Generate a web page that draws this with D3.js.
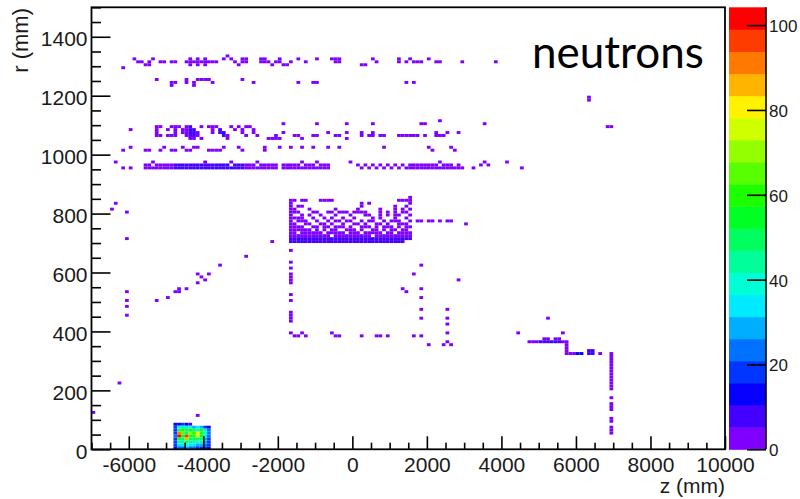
<!DOCTYPE html>
<html><head><meta charset="utf-8">
<script src="https://cdn.jsdelivr.net/npm/d3@7"></script>
<style>body{margin:0;background:#fff}</style>
</head><body><svg id="c" width="800" height="499"></svg>
<script>
// ---- binning & axes ----
const zBin = 100, rBin = 10;
const zDomain = [-7000, 10000];
const rDomain = [0, 1500];
const xTicks = [-6000,-4000,-2000,0,2000,4000,6000,8000,10000];
const yTicks = [0,200,400,600,800,1000,1200,1400];
const cTicks = [0,20,40,60,80,100];
const colorMax = 104.2, nLevels = 20;

// ---- dense spot near the beam line (counts per cell) ----
const hotZ = [-4800,-4700,-4600,-4500,-4400,-4300,-4200,-4100,-4000,-3900];
const hotR = [80,70,60,50,40,30,20,10,0];
const hotCounts = [
 [14,12,16,14,10,0,0,0,0,0],
 [18,38,42,35,38,30,34,30,20,14],
 [20,50,60,48,55,50,45,55,35,22],
 [18,92,65,52,70,62,80,58,38,24],
 [22,100,55,98,62,58,75,55,34,22],
 [20,60,48,88,50,52,50,48,30,18],
 [18,45,42,50,45,42,40,42,28,18],
 [16,35,35,40,35,32,30,30,24,16],
 [14,25,22,28,22,24,18,20,18,14]
];

// ---- sparse cells: [r, count, [z...]] ----
const ring1300 = [
 [1330, 2, [-3400]],
 [1320, 2, [-5900,-5400,-4400,-4200,-4000,-3500,-3300,-3000,-2900,-2500,-2400,-2000,-1500,-1000,-600,-500,-400,500,1200,1500,2000]],
 [1310, 2, [-5800,-5700,-5500,-5200,-5100,-4900,-4800,-4500,-4400,-4300,-4200,-4100,-4000,-3900,-3800,-3700,-3200,-3000,-2900,-2500,-2400,-2300,-2100,-2000,-1700,-1300,-500,-400,600,1200,1400,1600,1700,1800,2200,2300,2900,3800]],
 [1300, 2, [-5600,-5500,-4400,-4200,-4000,-3100,-2200,-1900,-1800,200,300]],
 [1290, 2, [-6200]]
];
const ring1240 = [
 [1250, 2, [-5300,-4500,-4200,-4100,-4000,-3900,-3000]],
 [1240, 2, [-4900,-4800,-4500,-4300,-3800,-2700,-1500,-1100,-1000,1400,1600]],
 [1230, 2, [-4900,-4300]],
 [1190, 2, [6300]],
 [1180, 2, [6300]]
];
const band1060 = [
 [1110, 2, [2300]],
 [1100, 2, [-1900,-1000,-200,500,1800,1900,3500]],
 [1090, 2, [-5300,-5200,-4900,-4800,-4700,-4500,-4100,-3900,-3800,-3700,-3300,-3100,-2900,-2800,6800,6900]],
 [1090, 8, [-4400]],
 [1080, 2, [-6000,-5300,-5000,-4800,-4600,-4500,-3800,-3200,-3000,-2700]],
 [1080, 9, [-4400,-4300,-3600]],
 [1070, 2, [-5300,-4800,-4600,-4500,-4200,-3800,-3000,-2700,-1900,-700,-200,200,500,2200,2500,2800]],
 [1070, 9, [-4400,-4300,-3600,-3500]],
 [1060, 2, [-5300,-5200,-5000,-4900,-4800,-4500,-4200,-3400,-2900,-2600,-2100,-1600,-1500,-1100,-1000,-500,-400,200,400,500,700,800,1200,1300,1400,1500,1600,1700,1900,2200,2300,2400]],
 [1060, 7, [-4400,-4300,-3500]],
 [1050, 2, [-4400,-4300,-4100,-3400,-2300,-2200,-2100,-2000,-1400,-200]],
 [1020, 2, [-6000,-5100,-4600,-4300,-4200,-3500,-3100,-2400,-2000,-1700,-1400,-1100,-700,-400,800,2000,2600]],
 [1010, 2, [-6200,-5600,-5500,-5200,-4900,-4800,-4500,-4400,-3900,-3800,-3700,-3600,-3000,-2400,2100,2700]]
];
const band960 = [
 [970, 2, [-6400,-5400,-4000,-3300,-2600,-1400,-1000,-100,2300,3500,4100]],
 [960, 3, [-5600,-5500,-5300,-5200,-5100,-5000,-4900]],
 [960, 7, [-4800,-4700,-4600,-4500,-4400,-4300,-4200,-4100,-4000,-3900,-3800,-3700,-3600,-3500,-3400,-3200,-3100,-3000]],
 [960, 3, [-2900,-2800,-2700,-2500,-2400,-2300,-2200,-2100,-1900,-1800,-1700,-1600,-1500,-1300,-1200,-1100,-900,-800,-700,100,300,500,700,900,1100,1300,1500,1600,1700,1800,1900,2000,2100,2200,2400,2500,2600,2800,3400,3600]],
 [950, 3, [-6200,-6000,-5600,-5500,-5400,-5300,-5200,-5100,-5000,-4900]],
 [950, 8, [-4800,-4700,-4600,-4500,-4400,-4300,-4200,-4100,-4000,-3900,-3800,-3700,-3600,-3500,-3400,-3300,-3200,-3100,-3000]],
 [950, 3, [-2900,-2800,-2700,-2600,-2500,-2400,-2300,-2200,-2100,-1900,-1800,-1700,-1600,-1500,-1400,-1300,-1200,-1100,-1000,-900,-800,-700,200,400,600,800,1000,1200,1400,1500,1600,1700,1800,1900,2000,2100,2200,2300,2400,2500,2600,2700,2800,2900,3200,4500]]
];
const boxRows = [
 [850, 3, [1500]],
 [840, 3, [-1700,-1600,-1400,-1300,-900,-800,-700,-600,1200,1300,1400,1500]],
 [830, 3, [-1700,200,400,1500]],
 [820, 3, [-1700,-1500,-1400,200,1100,1400]],
 [810, 3, [-1700,-1600,-1200,-500,100,700,1100,1300,1500]],
 [800, 3, [-1700,-1600,-1500,-1100,-1000,-700,-600,-400,-300,-200,0,100,200,300,700,900,1100,1300,1400]],
 [790, 3, [-1700,-1400,-1200,-900,-500,-100,300,400,700,900,1100,1200,1500]],
 [780, 3, [-1700,-1600,-1500,-1400,-1100,-800,-600,-300,0,500,700,1100,1400]],
 [770, 3, [-1700,-1500,-1400,-1300,-1000,-700,-500,-400,-200,-100,200,400,500,800,1000,1100,1200,1500,1700,1800,2000,2100,2300,2500,2600]],
 [760, 3, [-1700,-1600,-1300,-1200,-900,-800,-600,-300,0,100,300,600,700,900,1200,1300,1400,3000]],
 [750, 3, [-1700,-1600,-1500,-1400,-1100,-1000,-800,-700,-500,-400,-300,-100,200,300,400,600,800,900,1000,1200,1400,1500]],
 [740, 3, [-1700,-1600,-1500,-1400,-1300,-1200,-1000,-800,-600,-500,-200,-100,0,200,500,600,800,1000,1100,1300,1400]],
 [730, 4, [-1700,-1600,-1400,-1300,-1200,-1100,-1000,-900,-700,-600,-500,-400,-300,-100,0,100,300,400,500,600,700,900,1000,1200,1300,1400,1500]],
 [720, 4, [-1700,-1600,-1500,-1400,-1300,-1200,-1100,-1000,-900,-800,-700,-500,-400,-300,-200,-100,0,100,200,300,400,600,700,800,900,1000,1100,1200,1300,1400,1500]],
 [710, 7, [-1700,-1600,-1500,-1400,-1300,-1200,-1100,-1000,-900,-800,-700,-600,-500,-400,-300,-200,-100,0,100,200,300,400,500,600,700,800,900,1000,1100,1200,1300,1400,1500]],
 [700, 6, [-1700,-1600,-1500,-1400,-1300,-1200,-1100,-1000,-900,-800,-700,-600,-500,-400,-300,-200,-100,0,100,200,300,400,500,600,700,800,900,1000,1100,1200,1300]]
];
const lowerCells = [
 [830, 2, [-6400]], [810, 2, [-6500]], [800, 2, [-6100]], [710, 2, [-6100]],
 [700, 2, [-2200]], [670, 2, [-1700]], [650, 2, [-2900]], [630, 2, [-1700]],
 [620, 2, [-3600,1800]], [610, 2, [-1700]],
 [590, 2, [-4200,-3900,-1700,1600]], [580, 2, [-4100,-1700]], [570, 2, [-4000,-1700,2800]],
 [560, 2, [-4200,-1700]], [540, 2, [-4700,-4500,1300,1800]], [530, 2, [-6100,-4800,-4700,1400]],
 [520, 2, [-1700]], [510, 2, [-5000,1800]], [500, 2, [-6100,-5300,-1700]], [480, 2, [-6100]],
 [470, 2, [1800,2500]], [460, 2, [-1700]], [450, 2, [-6100,-1700]], [440, 2, [-1700,1800,2500,5200]],
 [430, 2, [-1700]], [420, 2, [2500]],
 [390, 2, [-1700,-1400,-600,2500,4400,5600]],
 [380, 2, [-1600,-1500,-1300,-500,-400,200,600,700,900,1600,1800]],
 [360, 2, [2500]], [350, 2, [2000,2400,2600]],
 [220, 2, [-6300]], [120, 2, [-7000]], [110, 2, [-4200]]
];
const rightCells = [
 [370, 3, [5100,5200,5400,5500]],
 [360, 4, [4700,4800,4900,5600,5700]],
 [360, 8, [5000,5100,5200,5300,5400,5500]],
 [350, 3, [5700]], [340, 3, [5700]], [330, 3, [5700]], [330, 8, [6300,6400]],
 [320, 4, [5700,5800,5900,6600,6900]], [320, 11, [6000,6100]], [320, 9, [6300,6400]],
 [310, 2, [6900]], [300, 2, [6900]], [290, 2, [6900]], [280, 2, [6900]], [270, 2, [6900]],
 [260, 2, [6900]], [250, 2, [6900]], [240, 2, [6900]], [230, 2, [6900]], [220, 2, [6900]],
 [210, 2, [6900]], [200, 2, [6900]], [170, 2, [6900]], [150, 2, [6900]], [140, 2, [6900]],
 [130, 2, [6900]], [100, 2, [6900]], [90, 2, [6900]], [70, 2, [6900]], [60, 2, [6900]], [50, 2, [6900]]
];

// ---- build cell list ----
const cells = [];
hotCounts.forEach((row, i) => row.forEach((v, j) => { if (v > 0) cells.push({z: hotZ[j], r: hotR[i], v}); }));
[ring1300, ring1240, band1060, band960, boxRows, lowerCells, rightCells].forEach(group =>
  group.forEach(([r, v, zs]) => zs.forEach(z => cells.push({z, r, v}))));

// ---- layout ----
const L = 91.5, R = 725, T = 7.3, B = 449.3;
const svg = d3.select("#c");
svg.append("rect").attr("width",800).attr("height",499).attr("fill","#fff");
const x = d3.scaleLinear().domain(zDomain).range([L, R]);
const y = d3.scaleLinear().domain(rDomain).range([B, T]);

const palette = d3.range(nLevels).map(i => d3.hsl(270 - i * 270 / (nLevels - 1), 1, 0.5).formatHex());
const color = v => palette[Math.min(nLevels - 1, Math.floor(v / (colorMax / nLevels)))];

svg.append("g").selectAll("rect").data(cells).join("rect")
  .attr("x", d => x(d.z)).attr("width", d => x(d.z + zBin) - x(d.z))
  .attr("y", d => y(d.r + rBin)).attr("height", d => y(d.r) - y(d.r + rBin))
  .attr("fill", d => color(d.v));

const font = "'Liberation Sans', Arial, Helvetica, sans-serif";

// X axis
const xMinor = d3.range(-7000, 10001, 500).filter(v => v % 2000 !== 0);
const gx = svg.append("g").attr("transform", `translate(0,${B})`);
gx.call(d3.axisBottom(x).tickValues(xTicks).tickSize(-13).tickPadding(7.4).tickFormat(d => String(d)));
gx.append("g").call(d3.axisBottom(x).tickValues(xMinor).tickSize(-6.6).tickFormat(""));
// Y axis
const yMinor = d3.range(0, 1501, 50).filter(v => v % 200 !== 0);
const gy = svg.append("g").attr("transform", `translate(${L},0)`);
gy.call(d3.axisLeft(y).tickValues(yTicks).tickSize(-19).tickPadding(4).tickFormat(d => String(d)));
gy.append("g").call(d3.axisLeft(y).tickValues(yMinor).tickSize(-9.5).tickFormat(""));
[gx, gy].forEach(g => {
  g.selectAll(".domain").remove();
  g.selectAll("line").attr("stroke", "#000").attr("stroke-width", 1.6);
  g.selectAll("text").attr("font-family", font).attr("font-size", 21).attr("fill", "#1a1a1a");
});
gy.selectAll("text").attr("dy", "0.43em");

// frame
svg.append("rect").attr("x", L).attr("y", T).attr("width", R - L).attr("height", B - T)
  .attr("fill", "none").attr("stroke", "#000").attr("stroke-width", 1.8);

// colour bar
const cx0 = 729, cx1 = 766;
const cy = d3.scaleLinear().domain([0, colorMax]).range([B, T]);
const step = colorMax / nLevels;
svg.append("g").selectAll("rect").data(d3.range(nLevels)).join("rect")
  .attr("x", cx0).attr("width", cx1 - cx0)
  .attr("y", i => cy((i + 1) * step)).attr("height", i => cy(i * step) - cy((i + 1) * step) + 0.5)
  .attr("fill", i => palette[i]);
const gc = svg.append("g").attr("transform", `translate(${cx1},0)`);
gc.call(d3.axisRight(cy).tickValues(cTicks).tickSize(-19).tickPadding(3).tickFormat(d => String(d)));
gc.select(".domain").attr("stroke", "#000").attr("stroke-width", 1.6).attr("d", `M0,${B}V${T}`);
gc.selectAll("line").attr("stroke", "#000").attr("stroke-width", 1.6);
gc.selectAll("text").attr("font-family", font).attr("font-size", 17).attr("fill", "#1a1a1a").attr("dy", "0.38em");

// titles
svg.append("text").attr("transform", "translate(27.5,8) rotate(-90)")
  .attr("text-anchor", "end").attr("font-family", font).attr("font-size", 22).attr("fill", "#1a1a1a").text("r (mm)");
svg.append("text").attr("x", 725).attr("y", 493)
  .attr("text-anchor", "end").attr("font-family", font).attr("font-size", 21).attr("fill", "#1a1a1a").text("z (mm)");
svg.append("text").attr("x", 532).attr("y", 68)
  .attr("font-family", "Lato, 'Open Sans', sans-serif").attr("font-size", 44).attr("fill", "#000").text("neutrons");
</script>
</body></html>
